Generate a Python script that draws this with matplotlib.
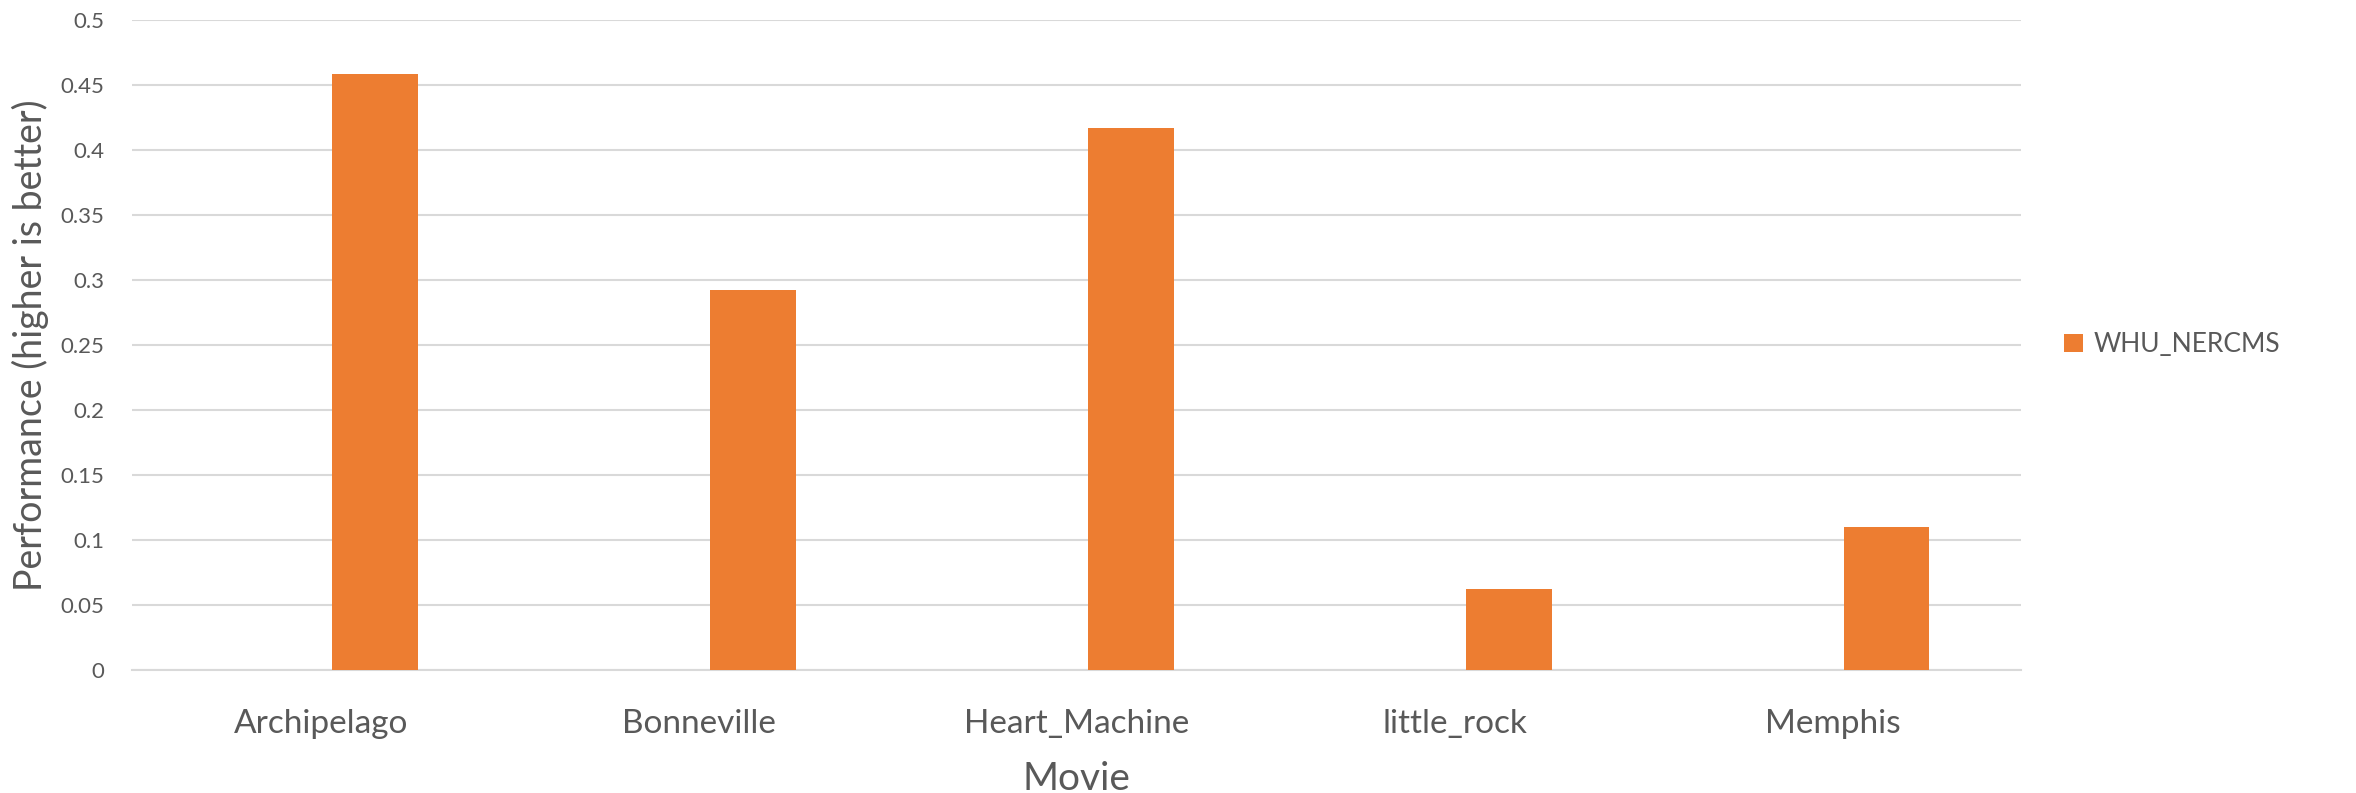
import matplotlib.pyplot as plt
import numpy as np

# per-movie scores for the one submitted run
movies = ['Archipelago', 'Bonneville', 'Heart_Machine', 'little_rock', 'Memphis']
scores = [0.458, 0.292, 0.417, 0.062, 0.110]
series_name = 'WHU_NERCMS'
y_ticks = [0, 0.05, 0.1, 0.15, 0.2, 0.25, 0.3, 0.35, 0.4, 0.45, 0.5]
y_tick_labels = ['0', '0.05', '0.1', '0.15', '0.2', '0.25', '0.3', '0.35', '0.4', '0.45', '0.5']

plt.rcParams['font.family'] = ['Lato', 'DejaVu Sans']
text_color = '#595959'
grid_color = '#D9D9D9'
bar_color = '#ED7D31'

fig = plt.figure(figsize=(23.56, 7.93), dpi=100)
ax = fig.add_axes([0.056, 0.155, 0.802, 0.82])

x = np.arange(len(movies))
# second slot of each group is the plotted series (first slot left empty)
ax.bar(x + 0.143, scores, width=0.227, color=bar_color, label=series_name, zorder=3)

ax.set_xlim(-0.5, len(movies) - 0.5)
ax.set_ylim(0, 0.5)
ax.set_yticks(y_ticks)
ax.set_yticklabels(y_tick_labels, fontsize=16, color=text_color)
ax.set_xticks(x)
ax.set_xticklabels(movies, fontsize=24, color=text_color)
ax.tick_params(axis='both', length=0)
ax.tick_params(axis='x', pad=28)
ax.tick_params(axis='y', pad=20)

ax.grid(axis='y', color=grid_color, linewidth=1.5, zorder=0)
for s in ['top', 'right', 'left']:
    ax.spines[s].set_visible(False)
ax.spines['bottom'].set_color(grid_color)
ax.spines['bottom'].set_linewidth(1.5)

ax.set_ylabel('Performance (higher is better)', fontsize=27, color=text_color, labelpad=8)
ax.set_xlabel('Movie', fontsize=28, color=text_color, labelpad=16)

ax.legend(loc='center left', bbox_to_anchor=(1.01, 0.5), frameon=False, fontsize=19,
          labelcolor=text_color, handlelength=0.7, handleheight=0.7, handletextpad=0.4)

fig.savefig('out.png', dpi=100)
